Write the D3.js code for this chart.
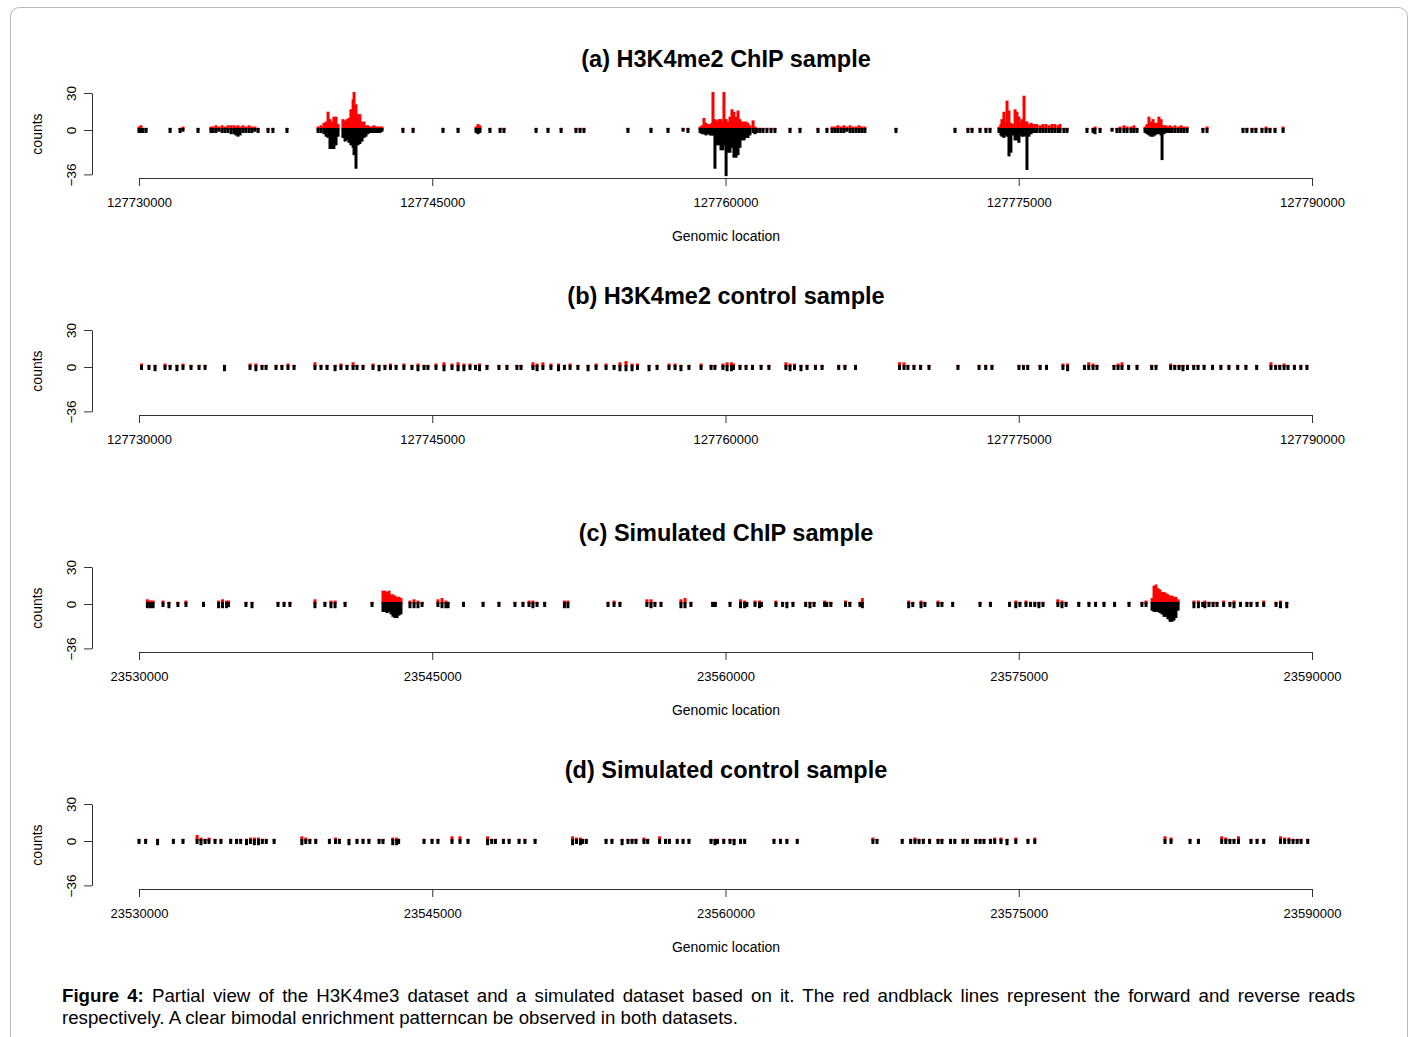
<!DOCTYPE html>
<html>
<head>
<meta charset="utf-8">
<script src="https://cdnjs.cloudflare.com/ajax/libs/d3/7.8.5/d3.min.js"></script>
<style>
body{margin:0;background:#fff;}
svg text{font-family:"Liberation Sans",Arial,sans-serif;}
</style>
</head>
<body>
<div id="canvas"></div>
<script>
// panel titles
var titles = ["(a) H3K4me2 ChIP sample", "(b) H3K4me2 control sample",
              "(c) Simulated ChIP sample", "(d) Simulated control sample"];
// x ticks (genomic coordinates) for the real and simulated windows
var ticksReal = [127730000, 127745000, 127760000, 127775000, 127790000];
var ticksSim  = [23530000, 23545000, 23560000, 23575000, 23590000];
var yTicks = [-36, 0, 30];
var xLabel = "Genomic location";
var yLabel = "counts";

// reads: [offset from window start (bp), forward count, reverse count]
var chipA = [[0,2,2],[100,3,2],[200,1,2],[360,1,2],[1590,1,2],[2100,1,2],[2250,2,1],[3020,1,2],
  [3680,2,2],[3790,2,2],[3940,3,2],[4090,2,1],[4250,3,2],[4400,2,2],[4550,3,2],[4710,3,3],[4860,3,3],
  [4960,2,4],[5060,3,5],[5170,2,4],[5320,3,2],[5470,2,2],[5630,3,2],[5780,2,2],[5930,2,1],[6090,1,2],
  [6600,1,2],[6850,1,2],[7570,1,2],
  [9160,2,2],[9310,3,2],[9460,5,3],[9570,6,5],[9670,14,6],[9770,8,15],[9870,6,15],[9970,10,15],[10080,10,12],
  [10180,4,5],[10430,8,6],[10540,7,9],[10640,8,8],[10740,9,10],[10840,16,12],[10950,24,14],[11000,30,20],
  [11100,20,31],[11200,12,12],[11300,12,11],[11410,6,9],[11510,6,6],[11610,3,5],[11710,3,3],[11820,2,2],
  [11920,2,2],[12020,3,2],[12120,2,2],[12220,2,2],[12330,2,2],[12430,2,1],
  [13500,1,2],[14020,1,2],[15550,1,2],[16320,1,2],[17240,2,2],[17340,4,3],[17440,3,2],[17950,1,2],
  [18470,1,2],[18670,1,2],[20310,1,2],[20920,1,2],[21590,1,2],[22350,1,2],[22560,1,2],[22760,1,2],
  [25010,1,2],[26190,1,2],[27060,1,2],[27830,1,1],[28080,1,2],
  [28700,2,2],[28800,3,3],[28900,9,3],[29000,5,4],[29100,4,3],[29210,4,4],[29310,5,4],[29360,30,4],
  [29460,8,31],[29560,7,12],[29670,8,12],[29770,8,16],[29870,6,16],[29920,30,12],[30030,8,37],[30130,6,18],
  [30230,10,18],[30330,16,14],[30430,14,22],[30540,10,22],[30640,15,20],[30740,8,14],[30840,6,8],
  [30950,6,8],[31050,6,6],[31150,5,6],[31250,3,4],[31410,7,2],[31510,2,3],[31610,1,2],
  [31760,1,2],[31920,1,2],[32120,1,2],[32330,1,2],[32530,1,2],[33300,1,2],[33810,1,2],
  [34730,1,2],[35190,1,2],[35450,2,2],[35600,2,2],[35750,3,2],[35910,2,2],[36060,3,2],[36210,2,1],
  [36370,3,2],[36520,2,2],[36680,2,2],[36830,3,2],[36980,2,2],[37130,2,2],[38720,1,2],
  [41740,1,2],[42400,1,2],[42610,1,2],[43020,1,2],[43320,1,2],[43530,1,2],
  [43990,2,2],[44090,4,4],[44140,8,5],[44240,14,6],[44350,6,4],[44400,23,5],[44500,15,21],[44600,5,18],
  [44710,4,4],[44810,16,8],[44910,14,8],[45010,10,10],[45110,6,4],[45170,8,5],[45270,27,5],[45370,6,4],
  [45420,6,32],[45520,4,5],[45630,5,3],[45730,4,2],[45830,4,2],[45930,4,2],[46090,3,2],[46240,4,2],
  [46390,4,2],[46550,3,2],[46700,4,2],[46850,4,2],[47010,3,2],[47110,4,2],[47310,1,2],[47470,1,2],
  [48490,1,2],[48800,1,2],[48900,2,3],[49160,1,2],[49770,1,1],[50020,1,2],[50180,2,2],[50380,3,2],
  [50540,2,2],[50740,2,2],[50890,3,2],[51050,1,2],
  [51460,2,2],[51560,4,3],[51660,10,4],[51760,6,5],[51870,8,5],[51970,5,4],[52070,5,3],[52170,10,3],
  [52280,8,4],[52330,3,24],[52430,3,3],[52530,3,2],[52630,2,2],[52740,3,2],[52840,2,2],[52990,3,2],
  [53150,2,2],[53300,3,2],[53450,2,2],[53610,2,2],
  [54420,1,2],[54630,2,2],[56470,1,2],[56670,1,2],[56930,1,2],[57130,1,2],[57440,1,2],[57650,2,2],
  [57850,1,2],[58110,1,2],[58520,2,2]];

var ctrlB = [[130,2,2],[510,1,2],[820,1,3],[1330,2,2],[1590,1,2],[1940,1,3],[2250,2,2],[2660,1,2],
  [3070,1,2],[3380,1,2],[4370,1,3],[5680,2,2],[5980,2,3],[6290,1,2],[6500,1,2],[7010,1,2],[7310,1,2],
  [7620,2,2],[7930,1,2],[9000,3,2],[9310,1,2],[9620,1,2],[10030,1,3],[10330,2,2],[10640,1,2],[10950,3,2],
  [11150,1,2],[11460,1,2],[11970,2,2],[12280,1,3],[12580,1,2],[12860,2,2],[13150,1,2],[13550,2,2],
  [13960,1,2],[14270,2,3],[14580,1,2],[14780,1,2],[15190,2,2],[15600,3,3],[16010,2,2],[16320,3,3],
  [16620,2,3],[16930,2,2],[17210,1,2],[17420,2,3],[17800,1,2],[18410,1,2],[18820,1,2],[19330,1,2],
  [19540,1,2],[20150,3,2],[20360,2,3],[20660,3,2],[21070,2,2],[21460,2,3],[21760,1,2],[22050,2,2],
  [22450,1,2],[22970,1,3],[23380,2,2],[23890,2,2],[24300,1,2],[24600,3,3],[24910,4,3],[25220,2,3],
  [25500,2,2],[26090,1,3],[26500,1,2],[27110,2,2],[27420,2,2],[27720,1,3],[28130,1,2],[28750,2,2],
  [29260,1,2],[29460,1,2],[29870,2,2],[30080,3,3],[30310,3,3],[30410,2,2],[30740,1,2],[31050,1,2],
  [31380,1,2],[31820,1,2],[32220,1,2],[33090,3,2],[33300,2,3],[33530,2,2],[33860,1,3],[34170,1,2],
  [34600,1,2],[34940,1,2],[35790,1,2],[36110,1,2],[36650,1,2],[38900,3,2],[39130,3,2],[39330,1,2],
  [39640,1,2],[39980,1,2],[40410,1,2],[41890,1,2],[42970,1,2],[43310,1,2],[43630,1,2],[45010,1,2],
  [45240,1,2],[45460,1,2],[46090,1,2],[46420,1,2],[47260,2,2],[47500,2,3],[48360,1,2],[48580,3,2],
  [48800,2,2],[49000,1,2],[49870,1,2],[50080,2,2],[50280,3,2],[50620,1,2],[51050,1,2],[51800,1,2],
  [52020,1,2],[52770,2,2],[52980,1,2],[53200,1,2],[53400,1,3],[53630,1,2],[53950,1,2],[54170,1,2],
  [54480,1,2],[54910,1,2],[55340,1,2],[55750,1,2],[56200,1,2],[56620,1,2],[57170,1,2],[57900,3,2],
  [58140,1,2],[58350,1,2],[58570,2,2],[58770,1,2],[59100,1,2],[59430,1,2],[59740,1,2]];

var chipC = [[430,3,3],[590,2,3],[720,2,3],[1230,2,2],[1530,1,3],[1990,1,2],[2400,2,2],[3300,1,2],
  [4070,2,3],[4270,3,3],[4480,2,3],[4580,2,2],[5470,1,2],[5780,1,3],[7110,1,2],[7420,1,2],[7720,1,2],
  [9000,3,3],[9510,1,2],[9820,2,3],[10030,2,3],[10540,1,2],[11920,1,2],
  [12480,10,6],[12580,10,6],[12690,9,7],[12790,10,6],[12890,7,8],[12990,7,10],[13090,6,11],[13200,5,11],
  [13300,5,9],[13400,4,8],
  [13860,2,3],[14070,3,3],[14270,2,3],[14480,1,2],[15290,3,2],[15500,4,3],[15700,2,3],[15810,1,3],
  [16600,1,2],[17600,1,2],[18410,1,2],[19230,1,2],[19640,1,2],[19950,2,2],[20150,2,3],[20360,1,2],
  [20750,1,2],[21760,2,3],[21940,2,3],[23990,1,2],[24300,2,2],[24600,1,2],[25980,3,2],[26190,3,3],
  [26390,1,2],[26700,1,2],[27720,3,3],[27930,4,3],[28230,1,2],[29340,1,2],[29480,1,2],[30230,1,2],
  [30770,3,3],[30980,2,3],[31090,1,2],[31510,2,2],[31740,2,3],[31840,1,2],[32580,2,2],[32920,1,2],
  [33140,1,3],[33450,1,2],[34100,1,2],[34320,1,3],[34530,1,2],[35070,2,2],[35180,1,2],[35390,1,2],
  [36140,2,2],[36360,1,2],[36880,1,2],[37000,4,3],[39370,2,3],[39580,1,2],[40000,2,3],[40200,1,2],
  [40870,2,2],[41070,1,2],[41620,1,2],[43020,1,2],[43550,1,2],[44530,1,2],[44850,2,3],[45060,1,2],
  [45370,2,2],[45600,1,2],[45820,1,2],[46030,1,3],[46240,1,2],[47000,3,2],[47210,2,3],[47420,1,2],
  [48070,1,2],[48590,1,2],[48930,1,2],[49360,1,2],[49900,1,2],[50640,1,2],[51300,1,2],[51510,2,2],
  [51820,4,5],[51920,14,6],[52020,15,6],[52120,12,6],[52220,11,7],[52330,9,8],[52430,9,10],[52530,8,10],
  [52630,7,12],[52740,6,14],[52840,6,14],[52940,5,13],[53040,5,11],[53150,3,5],
  [53960,2,3],[54190,2,3],[54410,1,2],[54520,2,3],[54730,1,2],[54940,1,2],[55140,1,2],[55480,2,2],
  [55800,1,2],[56010,2,3],[56340,1,2],[56670,1,2],[56880,1,2],[57190,1,2],[57530,2,2],[58160,1,2],
  [58390,2,3],[58710,1,3]];

var ctrlD = [[0,1,2],[340,1,2],[950,1,3],[1760,1,2],[2250,1,2],[2970,4,2],[3170,2,3],[3380,1,2],
  [3580,2,2],[3890,1,2],[4190,1,2],[4690,1,2],[4990,1,2],[5200,1,2],[5500,1,3],[5700,2,2],[5900,2,3],
  [6110,2,3],[6310,1,2],[6510,1,2],[6910,1,2],[8330,3,3],[8530,2,2],[8740,1,2],[9040,1,2],[9740,1,2],
  [10050,2,2],[10250,1,2],[10740,1,3],[11150,1,2],[11460,1,2],[11760,1,2],[12280,1,2],[12480,1,2],
  [12980,2,3],[13180,2,3],[13280,1,2],[14580,1,2],[14990,1,2],[15290,1,2],[16010,3,2],[16420,3,2],
  [16830,1,2],[17830,3,3],[18040,1,2],[18230,1,2],[18640,1,2],[18930,1,2],[19440,1,2],[19740,1,2],
  [20260,1,2],[22180,3,3],[22380,2,2],[22580,2,3],[22690,1,2],[22880,1,2],[23890,1,2],[24190,1,2],
  [24710,1,3],[25010,1,2],[25220,1,2],[25420,1,2],[25830,2,2],[26020,1,2],[26630,3,2],[26930,1,2],
  [27130,1,2],[27530,1,2],[27830,1,2],[28130,1,2],[29260,1,2],[29460,1,3],[29590,1,2],[29910,1,2],
  [30230,1,2],[30440,1,3],[30770,1,2],[30980,1,2],[32480,1,2],[32810,1,2],[33140,1,2],[33670,1,2],
  [37540,2,2],[37750,1,2],[39040,1,2],[39470,1,2],[39690,2,2],[39900,1,2],[40120,1,2],[40440,1,2],
  [40870,1,2],[41070,1,2],[41510,1,2],[41730,1,2],[42150,1,2],[42370,1,2],[42800,1,2],[43020,1,2],
  [43220,1,2],[43550,1,2],[43770,2,2],[44090,2,2],[44400,1,3],[44850,2,2],[45470,1,2],[45820,2,2],
  [52480,3,2],[52790,2,2],[53760,1,2],[54190,1,2],[55380,3,2],[55590,2,2],[55800,1,2],[56010,1,2],
  [56240,3,2],[56880,1,2],[57190,1,2],[57530,1,2],[58390,3,2],[58600,2,2],[58820,2,2],[59030,1,2],
  [59240,1,2],[59440,1,2],[59780,1,2]];

var captionBold = "Figure 4:";
var captionLine1 = " Partial view of the H3K4me3 dataset and a simulated dataset based on it. The red andblack lines represent the forward and reverse reads";
var captionLine2 = "respectively. A clear bimodal enrichment patterncan be observed in both datasets.";

var panels = [
  {title: titles[0], ticks: ticksReal, data: chipA, xlab: true},
  {title: titles[1], ticks: ticksReal, data: ctrlB, xlab: false},
  {title: titles[2], ticks: ticksSim,  data: chipC, xlab: true},
  {title: titles[3], ticks: ticksSim,  data: ctrlD, xlab: true}
];

var svg = d3.select("#canvas")
            .append("svg")
            .attr("width", 1416)
            .attr("height", 1037);

// page frame
svg.append("rect")
   .attr("x", 10.5).attr("y", 7.5)
   .attr("width", 1397).attr("height", 1045)
   .attr("rx", 9)
   .attr("fill", "none")
   .attr("stroke", "#b8b8b8");

var step = 237;

panels.forEach(function(p, i){
    var g = svg.append("g").attr("transform", "translate(0," + (i * step) + ")");
    var start = p.ticks[0];

    var x = d3.scaleLinear().domain([p.ticks[0], p.ticks[p.ticks.length - 1]]).range([139, 1312]);
    var y = d3.scaleLinear().domain([-36, 30]).range([174.4, 93]);
    var y0 = y(0);

    // title
    g.append("text")
     .attr("x", 726).attr("y", 67)
     .attr("text-anchor", "middle")
     .attr("font-size", "23.5px")
     .attr("font-weight", "bold")
     .text(p.title);

    // forward reads (red, up)
    g.selectAll(".fwd")
     .data(p.data)
     .enter().append("line")
     .attr("class", "fwd")
     .attr("x1", function(d){ return x(start + d[0]); })
     .attr("x2", function(d){ return x(start + d[0]); })
     .attr("y1", y0)
     .attr("y2", function(d){ return y(d[1]) - 1; })
     .attr("stroke", "#ff0000")
     .attr("stroke-width", 3);

    // reverse reads (black, down)
    g.selectAll(".rev")
     .data(p.data)
     .enter().append("line")
     .attr("class", "rev")
     .attr("x1", function(d){ return x(start + d[0]); })
     .attr("x2", function(d){ return x(start + d[0]); })
     .attr("y1", y0 - 2)
     .attr("y2", function(d){ return y(-d[2]) + 0.5; })
     .attr("stroke", "#000")
     .attr("stroke-width", 3);

    // x axis
    var xa = g.append("g")
              .attr("transform", "translate(0,178)")
              .call(d3.axisBottom(x).tickValues(p.ticks).tickFormat(d3.format("d"))
                      .tickSize(8).tickSizeOuter(0).tickPadding(12));
    xa.selectAll("text").attr("font-size", "13px").attr("fill", "#000");

    // y axis
    var ya = g.append("g")
              .attr("transform", "translate(92,0)")
              .call(d3.axisLeft(y).tickValues(yTicks).tickSize(8).tickSizeOuter(0));
    ya.selectAll("text")
      .attr("x", null).attr("dy", null)
      .attr("text-anchor", "middle")
      .attr("transform", "translate(-16.5,0) rotate(-90)")
      .attr("font-size", "13.5px")
      .attr("fill", "#000");

    [xa, ya].forEach(function(a){
        a.attr("font-family", null);
        a.selectAll("path, line").attr("stroke", "#333");
    });

    g.append("text")
     .attr("transform", "translate(42,134) rotate(-90)")
     .attr("text-anchor", "middle")
     .attr("font-size", "14px")
     .text(yLabel);

    if (p.xlab){
        g.append("text")
         .attr("x", 726).attr("y", 241)
         .attr("text-anchor", "middle")
         .attr("font-size", "14px")
         .text(xLabel);
    }
});

// caption, first line justified
var c1 = svg.append("text")
            .attr("x", 62).attr("y", 1002)
            .attr("font-size", "18.7px");
c1.append("tspan").attr("font-weight", "bold").text(captionBold);
c1.append("tspan").text(captionLine1);
var spaces = (captionBold + captionLine1).split(" ").length - 1;
var extra = (1355 - 62 - c1.node().getComputedTextLength()) / spaces;
c1.attr("word-spacing", extra);

svg.append("text")
   .attr("x", 62).attr("y", 1024)
   .attr("font-size", "18.7px")
   .text(captionLine2);
</script>
</body>
</html>
